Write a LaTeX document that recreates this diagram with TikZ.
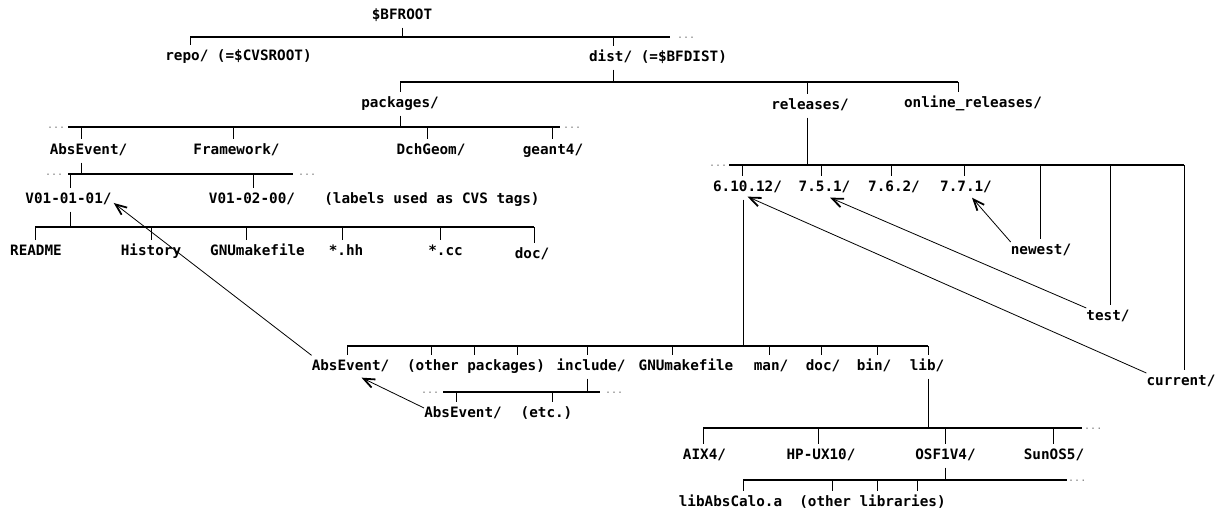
\documentclass[tikz,border=0pt]{standalone}
\usepackage{fontspec}
\newfontfamily\treefont{DejaVu Sans Mono}
\usetikzlibrary{arrows.meta,calc}
\begin{document}
\begin{tikzpicture}[x=1pt,y=-1pt,
  lbl/.style={inner xsep=0pt, inner ysep=5pt, text height=10.4pt, text depth=2.5pt,
    font=\treefont\bfseries\fontsize{14.3}{16}\selectfont},
  bar/.style={line width=2.6pt},
  tick/.style={line width=1pt},
  ptr/.style={line width=0.8pt, -{Straight Barb[length=11pt,width=9pt,line width=1.8pt]}},
  dotn/.style={inner sep=0pt, anchor=base west, text=gray, font=\treefont\fontsize{10}{10}\selectfont},
]
\useasboundingbox (0,0) rectangle (1221,513);

% ---------- level 0
\node[lbl] (bfroot) at (402,16) {\$BFROOT};
\coordinate (b0L) at (190,37); \coordinate (b0R) at (670,37);
\coordinate (b0T) at (402,37); \coordinate (b0d) at (613,37);
\draw[bar] (b0L) -- (b0R);
\node[dotn] (d0) at (677,38.5) {...};
\draw[tick] (bfroot.south -| b0T) -- (b0T);
\node[lbl] (repo) at (238.5,57) {repo/ (=\$CVSROOT)};
\node[lbl] (dist) at (658,58) {dist/ (=\$BFDIST)};
\draw[tick] (b0L) -- (b0L |- repo.north);
\draw[tick] (b0d) -- (b0d |- dist.north);

% ---------- level 1 (dist)
\coordinate (b1L) at (400,82); \coordinate (b1R) at (958,82);
\coordinate (b1d) at (613,82); \coordinate (b1r) at (807,82);
\draw[bar] (b1L) -- (b1R);
\draw[tick] (dist.south -| b1d) -- (b1d);
\node[lbl] (packages) at (400,104) {packages/};
\node[lbl] (releases) at (810,106) {releases/};
\node[lbl] (online) at (973,104) {online\_releases/};
\draw[tick] (b1L) -- (b1L |- packages.north);
\draw[tick] (b1r) -- (b1r |- releases.north);
\draw[tick] (b1R) -- (b1R |- online.north);

% ---------- packages
\coordinate (p0) at (400,127); \coordinate (pL) at (68,127); \coordinate (pR) at (560,127);
\coordinate (p1) at (81,127); \coordinate (p2) at (233,127);
\coordinate (p3) at (427,127); \coordinate (p4) at (552,127);
\draw[bar] (pL) -- (pR);
\node[dotn] (dpl) at (47,128.5) {...};
\node[dotn] (dpr) at (563,128.5) {...};
\draw[tick] (packages.south -| p0) -- (p0);
\node[lbl] (absevent) at (88.5,151) {AbsEvent/};
\node[lbl] (framework) at (236.5,151) {Framework/};
\node[lbl] (dchgeom) at (431,151) {DchGeom/};
\node[lbl] (geant) at (553,151) {geant4/};
\draw[tick] (p1) -- (p1 |- absevent.north);
\draw[tick] (p2) -- (p2 |- framework.north);
\draw[tick] (p3) -- (p3 |- dchgeom.north);
\draw[tick] (p4) -- (p4 |- geant.north);

% ---------- versions of AbsEvent
\coordinate (vL) at (68,174); \coordinate (vR) at (293,174);
\coordinate (v0) at (81,174); \coordinate (v1) at (70,174); \coordinate (v2) at (253,174);
\draw[bar] (vL) -- (vR);
\node[dotn] (dvl) at (45,175.5) {...};
\node[dotn] (dvr) at (298,175.5) {...};
\draw[tick] (absevent.south -| v0) -- (v0);
\node[lbl] (v0101) at (68.5,200) {V01-01-01/};
\node[lbl] (v0102) at (252,200) {V01-02-00/};
\node[lbl] (cvsnote) at (432,200) {(labels used as CVS tags)};
\draw[tick] (v1) -- (v1 |- v0101.north);
\draw[tick] (v2) -- (v2 |- v0102.north);

% ---------- files of V01-01-01
\coordinate (fT) at (70,227);
\coordinate (f1) at (35,227); \coordinate (f2) at (151,227); \coordinate (f3) at (246,227);
\coordinate (f4) at (342,227); \coordinate (f5) at (440,227); \coordinate (f6) at (534,227);
\draw[bar] (f1) -- (f6);
\draw[tick] (v0101.south -| fT) -- (fT);
\node[lbl] (readme) at (36,252) {README};
\node[lbl] (history) at (151,252) {History};
\node[lbl] (gnu1) at (257.5,252) {GNUmakefile};
\node[lbl] (hh) at (346,252) {*.hh};
\node[lbl] (cc) at (445.5,252) {*.cc};
\node[lbl] (doc1) at (532,255) {doc/};
\draw[tick] (f1) -- (f1 |- readme.north);
\draw[tick] (f2) -- (f2 |- history.north);
\draw[tick] (f3) -- (f3 |- gnu1.north);
\draw[tick] (f4) -- (f4 |- hh.north);
\draw[tick] (f5) -- (f5 |- cc.north);
\draw[tick] (f6) -- (f6 |- doc1.north);

% ---------- releases
\coordinate (rL) at (729,165); \coordinate (rT) at (807,165);
\coordinate (r1) at (742,165); \coordinate (r2) at (821,165); \coordinate (r3) at (891,165);
\coordinate (r4) at (964,165); \coordinate (r5) at (1040,165); \coordinate (r6) at (1110,165);
\coordinate (r7) at (1184,165);
\draw[bar] (rL) -- (r7);
\node[dotn] (drl) at (709,166.5) {...};
\draw[tick] (releases.south -| rT) -- (rT);
\node[lbl] (r61012) at (747.5,188) {6.10.12/};
\node[lbl] (r751) at (824.5,188) {7.5.1/};
\node[lbl] (r762) at (894,188) {7.6.2/};
\node[lbl] (r771) at (966,188) {7.7.1/};
\node[lbl] (newest) at (1041,251) {newest/};
\node[lbl] (test) at (1108,317) {test/};
\node[lbl] (current) at (1181,382) {current/};
\draw[tick] (r1) -- (r1 |- r61012.north);
\draw[tick] (r2) -- (r2 |- r751.north);
\draw[tick] (r3) -- (r3 |- r762.north);
\draw[tick] (r4) -- (r4 |- r771.north);
\draw[tick] (r5) -- (r5 |- newest.north);
\draw[tick] (r6) -- (r6 |- test.north);
\draw[tick] (r7) -- (r7 |- current.north);

% ---------- contents of 6.10.12
\coordinate (cT) at (743,346);
\coordinate (c1) at (347,346); \coordinate (c2) at (431,346); \coordinate (c3) at (474,346);
\coordinate (c4) at (517,346); \coordinate (c5) at (587,346); \coordinate (c6) at (672,346);
\coordinate (c7) at (769,346); \coordinate (c8) at (821,346); \coordinate (c9) at (877,346);
\coordinate (c10) at (928,346);
\draw[bar] (c1) -- (c10);
\draw[tick] (r61012.south -| cT) -- (cT);
\node[lbl] (relabs) at (350.5,367) {AbsEvent/};
\node[lbl] (otherpk) at (476,367) {(other packages)};
\node[lbl] (include) at (591,367) {include/};
\node[lbl] (gnu2) at (686,367) {GNUmakefile};
\node[lbl] (man) at (771,367) {man/};
\node[lbl] (doc2) at (823,367) {doc/};
\node[lbl] (bin) at (874,367) {bin/};
\node[lbl] (lib) at (927,367) {lib/};
\draw[tick] (c1) -- (c1 |- relabs.north);
\draw[tick] (c2) -- (c2 |- otherpk.north);
\draw[tick] (c3) -- (c3 |- otherpk.north);
\draw[tick] (c4) -- (c4 |- otherpk.north);
\draw[tick] (c5) -- (c5 |- include.north);
\draw[tick] (c6) -- (c6 |- gnu2.north);
\draw[tick] (c7) -- (c7 |- man.north);
\draw[tick] (c8) -- (c8 |- doc2.north);
\draw[tick] (c9) -- (c9 |- bin.north);
\draw[tick] (c10) -- (c10 |- lib.north);

% ---------- include/
\coordinate (iT) at (587,392); \coordinate (iL) at (443,392); \coordinate (iR) at (600,392);
\coordinate (i1) at (456,392); \coordinate (i2) at (552,392);
\draw[bar] (iL) -- (iR);
\node[dotn] (dil) at (421,393.5) {...};
\node[dotn] (dir) at (605,393.5) {...};
\draw[tick] (include.south -| iT) -- (iT);
\node[lbl] (incabs) at (463,414) {AbsEvent/};
\node[lbl] (etc) at (546.5,414) {(etc.)};
\draw[tick] (i1) -- (i1 |- incabs.north);
\draw[tick] (i2) -- (i2 |- etc.north);

% ---------- lib/
\coordinate (lT) at (928,428);
\coordinate (l1) at (703,428); \coordinate (l2) at (818,428); \coordinate (l3) at (945,428);
\coordinate (l4) at (1053,428); \coordinate (lR) at (1082,428);
\draw[bar] (l1) -- (lR);
\node[dotn] (dll) at (1084,429.5) {...};
\draw[tick] (lib.south -| lT) -- (lT);
\node[lbl] (aix) at (704.5,456) {AIX4/};
\node[lbl] (hpux) at (821,456) {HP-UX10/};
\node[lbl] (osf) at (945.5,456) {OSF1V4/};
\node[lbl] (sunos) at (1054,456) {SunOS5/};
\draw[tick] (l1) -- (l1 |- aix.north);
\draw[tick] (l2) -- (l2 |- hpux.north);
\draw[tick] (l3) -- (l3 |- osf.north);
\draw[tick] (l4) -- (l4 |- sunos.north);

% ---------- OSF1V4/
\coordinate (oT) at (945,480);
\coordinate (o1) at (743,480); \coordinate (o2) at (832,480); \coordinate (o3) at (877,480);
\coordinate (o4) at (917,480); \coordinate (oR) at (1067,480);
\draw[bar] (o1) -- (oR);
\node[dotn] (dol) at (1068,481.5) {...};
\draw[tick] (osf.south -| oT) -- (oT);
\node[lbl] (libabs) at (730.5,503) {libAbsCalo.a};
\node[lbl] (otherlib) at (872.5,503) {(other libraries)};
\draw[tick] (o1) -- (o1 |- libabs.north);
\draw[tick] (o2) -- (o2 |- otherlib.north);
\draw[tick] (o3) -- (o3 |- otherlib.north);
\draw[tick] (o4) -- (o4 |- otherlib.north);

% ---------- pointers
\draw[ptr] (relabs.north west) -- ([xshift=2pt,yshift=-3pt]v0101.east);
\draw[ptr] ([yshift=6pt]incabs.west) -- ([xshift=11pt,yshift=1pt]relabs.south);
\draw[ptr] ([yshift=9pt]newest.west) -- ([xshift=6pt,yshift=2pt]r771.south);
\draw[ptr] ([yshift=9pt]test.west) -- ([xshift=5.5pt,yshift=2pt]r751.south);
\draw[ptr] ([yshift=9pt]current.west) -- ([yshift=3pt]r61012.south);
\end{tikzpicture}
\end{document}
